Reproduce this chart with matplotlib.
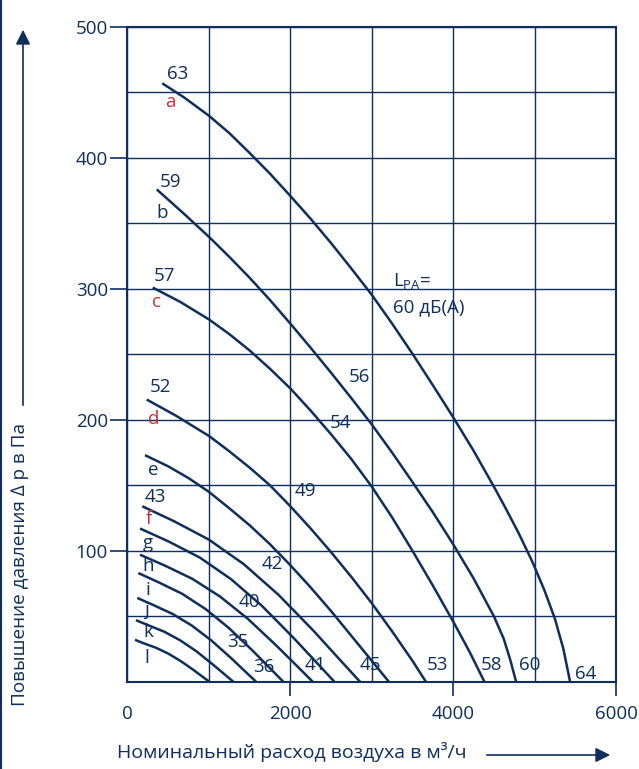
import matplotlib
matplotlib.use('Agg')
import matplotlib.pyplot as plt
from matplotlib.lines import Line2D
from matplotlib.patches import FancyArrowPatch

plt.rcParams['font.family'] = ['Open Sans', 'DejaVu Sans']
plt.rcParams['mathtext.fontset'] = 'custom'
plt.rcParams['mathtext.rm'] = 'Open Sans'

NAVY = '#0f2e5c'
RED = '#c4303c'

# fan curves, air flow (m3/h) -> pressure rise (Pa)
a_x = [427, 700, 1005, 1250, 1505, 1750, 2000, 2250, 2500, 2750, 3000, 3250, 3500, 3750,
       4000, 4250, 4500, 4640, 4800, 4970, 5120, 5250, 5354, 5436]
a_y = [457, 446, 432, 419, 403.5, 388, 371, 353.5, 335, 315.5, 295.5, 273.5, 250.5, 226.5,
       202, 176.5, 149, 133, 114, 92, 70, 48, 25, 0]
b_x = [359, 700, 1005, 1250, 1500, 1750, 2000, 2250, 2500, 2750, 3000, 3250, 3500, 3750,
       4000, 4250, 4500, 4620, 4700, 4773]
b_y = [376, 357, 339.5, 324.5, 308.5, 291.5, 273.5, 255, 236, 216.5, 196.5, 175, 152.5, 129.5,
       105, 79, 50, 33, 17, 0]
c_x = [310, 650, 1005, 1250, 1500, 1750, 2000, 2250, 2500, 2750, 3000, 3250, 3500, 3750,
       4000, 4200, 4384]
c_y = [301, 290, 276.5, 265.5, 253, 239, 224, 207, 189, 170, 149, 125.5, 100, 73.5,
       46, 23, 0]
d_x = [236, 600, 1005, 1250, 1500, 1750, 2000, 2250, 2500, 2750, 3000, 3250, 3500, 3665]
d_y = [215.5, 203, 187.5, 176, 163.5, 150, 134, 117, 99, 80, 60, 38.5, 16, 0]
e_x = [215, 500, 750, 1000, 1250, 1500, 1750, 2000, 2250, 2500, 2750, 3000, 3210]
e_y = [173, 164.5, 155.5, 145, 132.5, 119.5, 105, 89, 72, 54, 35, 16, 0]
f_x = [182, 571, 1000, 1428, 1856, 2285, 2570, 2856]
f_y = [134, 122.6, 108.5, 89.8, 66.3, 38.9, 19.4, 0]
g_x = [154, 508, 889, 1270, 1652, 2033, 2287, 2541]
g_y = [117, 107, 94.8, 78.4, 57.9, 33.9, 17, 0]
h_x = [154, 455, 796, 1138, 1479, 1820, 2048, 2275]
h_y = [97, 88.8, 78.6, 65, 48, 28.1, 14.1, 0]
i_x = [133, 383, 670, 957, 1244, 1531, 1723, 1914]
i_y = [83, 75.9, 67.2, 55.6, 41.1, 24.1, 12, 0]
j_x = [120, 316, 553, 790, 1026, 1263, 1421, 1579]
j_y = [64, 58.6, 51.8, 42.9, 31.7, 18.6, 9.3, 0]
k_x = [104, 260, 455, 650, 845, 1040, 1170, 1300]
k_y = [47, 43, 38.1, 31.5, 23.3, 13.6, 6.8, 0]
l_x = [92, 201, 352, 503, 653, 804, 905, 1005]
l_y = [32, 29.3, 25.9, 21.4, 15.8, 9.3, 4.6, 0]

curves = [(a_x, a_y), (b_x, b_y), (c_x, c_y), (d_x, d_y), (e_x, e_y), (f_x, f_y),
          (g_x, g_y), (h_x, h_y), (i_x, i_y), (j_x, j_y), (k_x, k_y), (l_x, l_y)]

# curve letters next to the start of each curve
letters = ['a', 'b', 'c', 'd', 'e', 'f', 'g', 'h', 'i', 'j', 'k', 'l']
letter_x = [522, 424, 362, 319, 319, 264, 252, 252, 252, 240, 252, 240]
letter_y = [443, 358, 290, 201, 162, 124, 106, 88, 70, 55, 38, 18]
red_letters = ['a', 'c', 'd', 'f']

# sound levels written along the curves
levels = ['63', '59', '57', '52', '43',
          '56', '54', '49', '42', '40', '35',
          '64', '60', '58', '53', '45', '41', '36']
level_x = [620, 534, 457, 405, 344,
           2844, 2611, 2181, 1775, 1493, 1357,
           5633, 4945, 4466, 3802, 2979, 2303, 1677]
level_y = [464, 382, 310, 225, 141,
           233, 197.5, 146, 90, 61, 30,
           6, 13, 13, 13, 13, 13, 11]

fig = plt.figure(figsize=(6.39, 7.69), dpi=100)
ax = fig.add_axes([0.1995, 0.1135, 0.7645, 0.8514])

ax.set_xlim(0, 6000)
ax.set_ylim(0, 500)
ax.set_xticks(range(0, 6001, 1000), minor=True)
ax.set_yticks(range(0, 501, 50), minor=True)
ax.set_xticks([0, 2000, 4000, 6000])
ax.set_yticks([100, 200, 300, 400, 500])
ax.grid(which='both', color=NAVY, lw=1)
ax.tick_params(which='minor', length=0)
ax.tick_params(axis='x', which='major', length=10, width=1.2, color=NAVY,
               labelsize=13.5, labelcolor=NAVY, pad=7)
ax.tick_params(axis='y', which='major', length=12.6, width=1.2, color=NAVY,
               labelsize=13.5, labelcolor=NAVY, pad=1.5)
ax.xaxis.get_major_ticks()[0].tick1line.set_visible(False)
for s in ax.spines.values():
    s.set_color(NAVY)
    s.set_linewidth(1.5)
ax.set_axisbelow(True)

for cx, cy in curves:
    ax.plot(cx, cy, color=NAVY, lw=1.8, solid_capstyle='butt', solid_joinstyle='round')

for t, x, y in zip(letters, letter_x, letter_y):
    ax.text(x, y, t, ha='center', va='center', fontsize=13.5,
            color=RED if t in red_letters else NAVY)

for t, x, y in zip(levels, level_x, level_y):
    ax.text(x, y, t, ha='center', va='center', fontsize=13.5, color=NAVY)

ax.text(3262, 305, r'L$_{\mathregular{PA}}$=', ha='left', va='center', fontsize=13.5, color=NAVY)
ax.text(3262, 286, '60 дБ(А)', ha='left', va='center', fontsize=13.5, color=NAVY)

# axis captions with arrows
fig.text(117 / 639, 1 - 752 / 769, 'Номинальный расход воздуха в м³/ч',
         ha='left', va='center', fontsize=14, color=NAVY)
fig.add_artist(FancyArrowPatch((484 / 639, 1 - 755 / 769), (613 / 639, 1 - 755 / 769),
                               transform=fig.transFigure, arrowstyle='-|>',
                               mutation_scale=22, color=NAVY, lw=1.2))
fig.text(20 / 639, 1 - 706 / 769, 'Повышение давления ∆ р в Па', rotation=90,
         ha='center', va='bottom', fontsize=13.6, color=NAVY)
fig.add_artist(FancyArrowPatch((23 / 639, 1 - 408 / 769), (23 / 639, 1 - 27 / 769),
                               transform=fig.transFigure, arrowstyle='-|>',
                               mutation_scale=22, color=NAVY, lw=1.2))
fig.add_artist(Line2D([0.0015, 0.0015], [0, 1], transform=fig.transFigure, color=NAVY, lw=1.5))

fig.savefig('out.png', dpi=100)
